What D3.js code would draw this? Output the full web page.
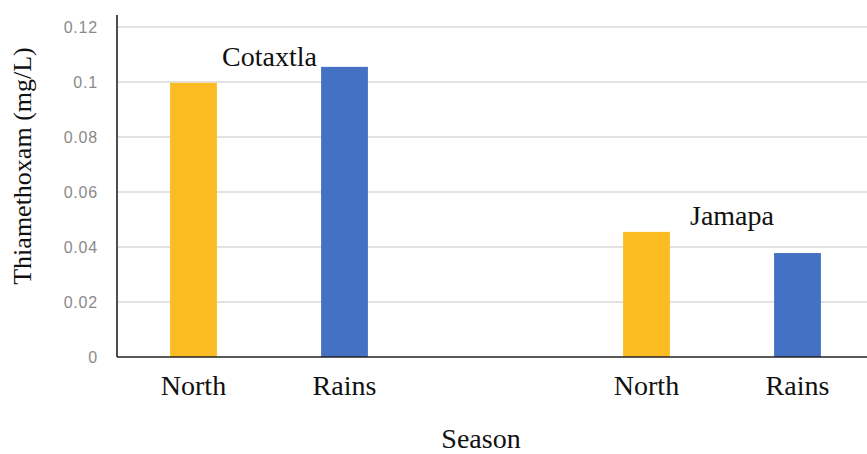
<!DOCTYPE html>
<html>
<head>
<meta charset="utf-8">
<script src="https://cdn.jsdelivr.net/npm/d3@7"></script>
<style>
  body { margin: 0; background: #fff; }
  svg { display: block; }
  .serif { font-family: "Liberation Serif", "DejaVu Serif", serif; }
</style>
</head>
<body>
<svg width="867" height="454"></svg>
<script>
// slots along the x axis; the empty one separates the two sites
var slots = ["c-north", "c-rains", "gap", "j-north", "j-rains"];
var slotLabels = ["North", "Rains", "", "North", "Rains"];
var barSlots = ["c-north", "c-rains", "j-north", "j-rains"];
var barValues = [0.0997, 0.1055, 0.0455, 0.0378];
var barSeason = ["North", "Rains", "North", "Rains"];
var sites = ["Cotaxtla", "Jamapa"];
var yTicks = [0, 0.02, 0.04, 0.06, 0.08, 0.1, 0.12];

var svg = d3.select("svg");

var x = d3.scaleBand()
    .domain(slots)
    .range([118, 873])
    .paddingInner(0.69)
    .paddingOuter(0.345);

var y = d3.scaleLinear()
    .domain([0, 0.12])
    .range([357, 27]);

var color = d3.scaleOrdinal()
    .domain(["North", "Rains"])
    .range(["#fbbb22", "#4471c3"]);

// gridlines
svg.append("g")
  .selectAll("line")
  .data(yTicks.slice(1))
  .enter().append("line")
    .attr("x1", 118).attr("x2", 867)
    .attr("y1", function(d) { return y(d); })
    .attr("y2", function(d) { return y(d); })
    .attr("stroke", "#d9d9d9")
    .attr("stroke-width", 1.6);

// y tick labels
svg.append("g")
  .selectAll("text")
  .data(yTicks)
  .enter().append("text")
    .attr("x", 98)
    .attr("y", function(d) { return y(d) + 6; })
    .attr("text-anchor", "end")
    .attr("font-family", "'Liberation Sans', Arial, sans-serif")
    .attr("font-size", 16)
    .attr("letter-spacing", 0.8)
    .attr("fill", "#8a8a8a")
    .text(function(d) { return d; });

// bars
svg.append("g")
  .selectAll("rect")
  .data(barValues)
  .enter().append("rect")
    .attr("x", function(d, i) { return x(barSlots[i]); })
    .attr("width", x.bandwidth())
    .attr("y", function(d) { return y(d); })
    .attr("height", function(d) { return y(0) - y(d); })
    .attr("fill", function(d, i) { return color(barSeason[i]); });

// axes lines
svg.append("line")
  .attr("x1", 117).attr("x2", 117)
  .attr("y1", 15).attr("y2", 357)
  .attr("stroke", "#222").attr("stroke-width", 1.6);
svg.append("line")
  .attr("x1", 117).attr("x2", 867)
  .attr("y1", 357).attr("y2", 357)
  .attr("stroke", "#222").attr("stroke-width", 1.6);

var fs = 28;

// x category labels
svg.append("g")
  .selectAll("text")
  .data(slots)
  .enter().append("text")
    .attr("class", "serif")
    .attr("x", function(d) { return x(d) + x.bandwidth() / 2; })
    .attr("y", 395)
    .attr("text-anchor", "middle")
    .attr("font-size", fs)
    .attr("fill", "#111")
    .text(function(d, i) { return slotLabels[i]; });

// site labels
svg.append("text")
  .attr("class", "serif")
  .attr("x", 222).attr("y", 66)
  .attr("font-size", fs).attr("fill", "#111")
  .text(sites[0]);
svg.append("text")
  .attr("class", "serif")
  .attr("x", 690).attr("y", 225)
  .attr("font-size", fs).attr("fill", "#111")
  .text(sites[1]);

// axis titles
svg.append("text")
  .attr("class", "serif")
  .attr("x", 481).attr("y", 448)
  .attr("text-anchor", "middle")
  .attr("font-size", fs).attr("fill", "#111")
  .text("Season");
svg.append("text")
  .attr("class", "serif")
  .attr("transform", "translate(31,166) rotate(-90)")
  .attr("text-anchor", "middle")
  .attr("font-size", 26).attr("fill", "#111")
  .text("Thiamethoxam (mg/L)");
</script>
</body>
</html>
